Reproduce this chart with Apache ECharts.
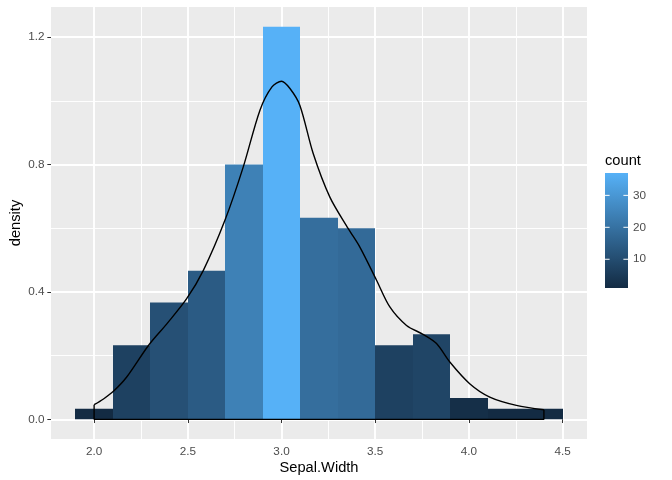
<!DOCTYPE html>
<html>
<head>
<meta charset="utf-8">
<script src="https://cdn.jsdelivr.net/npm/echarts@6/dist/echarts.min.js"></script>
<style>html,body{margin:0;padding:0;background:#fff}#chart{width:672px;height:480px}</style>
</head>
<body>
<div id="chart"></div>
<script>
// ---- data ----
const binMids = [2.0, 2.2, 2.4, 2.6, 2.8, 3.0, 3.2, 3.4, 3.6, 3.8, 4.0, 4.2, 4.4];
const binCounts = [1, 7, 11, 14, 24, 37, 19, 18, 7, 8, 2, 1, 1];
const binDensity = [0.033, 0.233, 0.367, 0.467, 0.8, 1.233, 0.633, 0.6, 0.233, 0.267, 0.067, 0.033, 0.033];
const binWidth = 0.2;
const densityX = [2.0, 2.05, 2.103, 2.174, 2.29, 2.388, 2.494, 2.583, 2.698, 2.796, 2.885, 2.949, 3.0, 3.045, 3.098, 3.169, 3.258, 3.356, 3.418, 3.507, 3.578, 3.667, 3.755, 3.827, 3.898, 4.004, 4.111, 4.253, 4.4];
const densityY = [0.046, 0.064, 0.088, 0.133, 0.232, 0.30, 0.379, 0.468, 0.625, 0.793, 0.971, 1.044, 1.062, 1.039, 0.986, 0.835, 0.698, 0.599, 0.541, 0.437, 0.353, 0.295, 0.267, 0.238, 0.180, 0.112, 0.070, 0.044, 0.030];
const xTicks = [2.0, 2.5, 3.0, 3.5, 4.0, 4.5];
const xMinor = [2.25, 2.75, 3.25, 3.75, 4.25];
const yTicks = [0.0, 0.4, 0.8, 1.2];
const yMinor = [0.2, 0.6, 1.0];
const legendTicks = [10, 20, 30];
const countMin = 1, countMax = 37;
const lowColor = '#132B43', highColor = '#56B1F7';

const FONT = 'Liberation Sans, Arial, sans-serif';
const chart = echarts.init(document.getElementById('chart'), null, {renderer: 'canvas'});

const histData = binMids.map((m, i) => [m, binDensity[i], binCounts[i]]);
const curveData = densityX.map((x, i) => [x, densityY[i]]);
const outlineData = [[densityX[0], densityY[0]], [densityX[0], 0], [densityX[densityX.length - 1], 0], [densityX[densityX.length - 1], densityY[densityY.length - 1]]];

const gridLines = [];
xTicks.forEach(v => gridLines.push({xAxis: v, lineStyle: {width: 1.9}}));
xMinor.forEach(v => gridLines.push({xAxis: v, lineStyle: {width: 0.95}}));
yTicks.forEach(v => gridLines.push({yAxis: v, lineStyle: {width: 1.9}}));
yMinor.forEach(v => gridLines.push({yAxis: v, lineStyle: {width: 0.95}}));

// legend colorbar geometry
const cbX = 605, cbY = 173, cbW = 23, cbH = 115;
const cbYof = v => cbY + cbH - (v - countMin) / (countMax - countMin) * cbH;
const legendGraphics = [
  {type: 'text', left: cbX, top: 153, style: {text: 'count', font: '14.67px ' + FONT, fill: '#000'}},
  {type: 'rect', shape: {x: cbX, y: cbY, width: cbW, height: cbH},
   style: {fill: new echarts.graphic.LinearGradient(0, 0, 0, 1, [{offset: 0, color: highColor}, {offset: 1, color: lowColor}])}}
];
legendTicks.forEach(v => {
  const y = cbYof(v);
  legendGraphics.push({type: 'line', shape: {x1: cbX, y1: y, x2: cbX + cbW / 5, y2: y}, style: {stroke: '#fff', lineWidth: 1}});
  legendGraphics.push({type: 'line', shape: {x1: cbX + cbW * 4 / 5, y1: y, x2: cbX + cbW, y2: y}, style: {stroke: '#fff', lineWidth: 1}});
  legendGraphics.push({type: 'text', x: cbX + cbW + 5, y: y, style: {text: String(v), font: '11.73px ' + FONT, fill: '#4D4D4D', verticalAlign: 'middle'}});
});

chart.setOption({
  animation: false,
  backgroundColor: '#fff',
  grid: {left: 51, right: 85, top: 7, bottom: 41, show: true, backgroundColor: '#EBEBEB', borderWidth: 0,
    containLabel: false, outerBoundsMode: 'none'},
  xAxis: {
    type: 'value', min: 1.77, max: 4.63,
    name: 'Sepal.Width', nameLocation: 'middle', nameGap: 21, nameMoveOverlap: false,
    nameTextStyle: {fontFamily: FONT, fontSize: 14.67, color: '#000'},
    axisLine: {show: false},
    axisTick: {show: true, length: 3.67, customValues: xTicks, lineStyle: {color: '#333333', width: 1}},
    axisLabel: {customValues: xTicks, margin: 6.5, fontFamily: FONT, fontSize: 11.73, color: '#4D4D4D', formatter: v => v.toFixed(1)},
    splitLine: {show: false}
  },
  yAxis: {
    type: 'value', min: -0.0617, max: 1.295,
    name: 'density', nameLocation: 'middle', nameGap: 28, nameMoveOverlap: false,
    nameTextStyle: {fontFamily: FONT, fontSize: 14.67, color: '#000'},
    axisLine: {show: false},
    axisTick: {show: true, length: 3.67, customValues: yTicks, lineStyle: {color: '#333333', width: 1}},
    axisLabel: {customValues: yTicks, margin: 6.5, fontFamily: FONT, fontSize: 11.73, color: '#4D4D4D', formatter: v => v.toFixed(1)},
    splitLine: {show: false}
  },
  visualMap: {
    show: false, type: 'continuous', seriesIndex: 1, dimension: 2,
    min: countMin, max: countMax, inRange: {color: [lowColor, highColor]}
  },
  graphic: legendGraphics,
  series: [
    {
      type: 'line', z: 0, data: [], silent: true,
      markLine: {silent: true, z: 0, symbol: ['none', 'none'], label: {show: false}, animation: false,
        lineStyle: {color: '#FFFFFF', type: 'solid'}, emphasis: {disabled: true}, data: gridLines}
    },
    {
      type: 'custom', z: 2, data: histData, encode: {x: 0, y: 1},
      renderItem: (params, api) => {
        const p0 = api.coord([api.value(0) - binWidth / 2, api.value(1)]);
        const p1 = api.coord([api.value(0) + binWidth / 2, 0]);
        const x0 = Math.round(p0[0]), x1 = Math.round(p1[0]);
        return {type: 'rect', shape: {x: x0, y: p0[1], width: x1 - x0, height: p1[1] - p0[1]},
          style: {fill: api.visual('color')}};
      }
    },
    {
      type: 'line', z: 3, data: curveData, showSymbol: false, smooth: 0.3,
      lineStyle: {color: '#000', width: 1.4}, silent: true
    },
    {
      type: 'line', z: 3, data: outlineData, showSymbol: false,
      lineStyle: {color: '#000', width: 1.4}, silent: true
    }
  ]
});
</script>
</body>
</html>
